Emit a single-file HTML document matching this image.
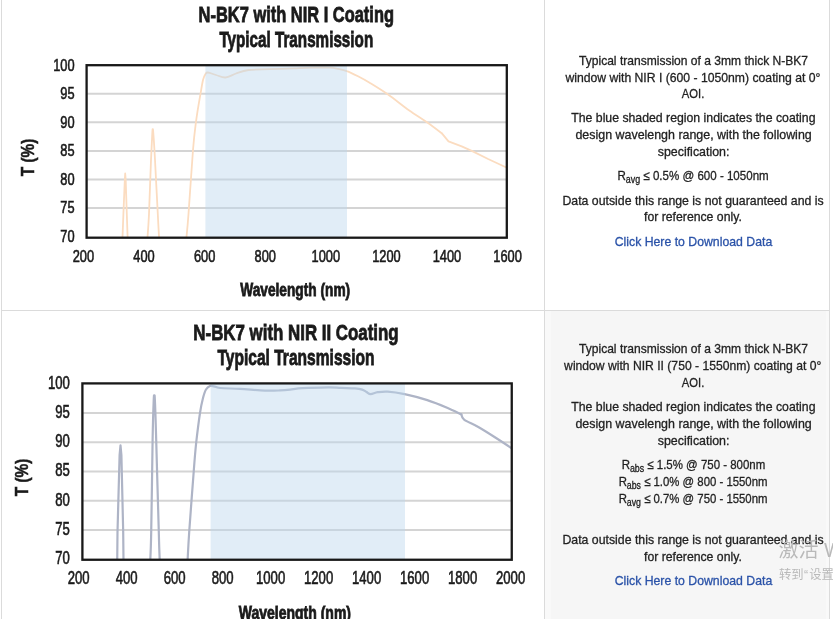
<!DOCTYPE html>
<html lang="en">
<head>
<meta charset="utf-8">
<title>N-BK7 NIR Coating Typical Transmission</title>
<style>
html,body{margin:0;padding:0;background:#fff;}
body{width:833px;height:619px;position:relative;overflow:hidden;font-family:"Liberation Sans", sans-serif;}
.b{position:absolute;background:#dbdbdb;}
.cell2{position:absolute;left:545px;top:311px;width:284px;height:308px;background:#f9f9f9;}
.cell2 i{position:absolute;left:6px;top:0;width:275px;height:308px;background:#f6f6f6;}
svg{position:absolute;left:0;top:0;}
svg text{font-family:"Liberation Sans", sans-serif;fill:#1a1a1a;}
svg text.tk{stroke:#1a1a1a;stroke-width:0.6px;}
svg text.tt{stroke:#1a1a1a;stroke-width:0.8px;}
svg text.ax{stroke:#1a1a1a;stroke-width:0.5px;}
.ln{position:absolute;height:17px;line-height:17px;white-space:nowrap;font-size:13px;color:#222;transform-origin:50% 50%;-webkit-text-stroke:0.3px currentColor;}.ln sub{font-size:10px;vertical-align:baseline;position:relative;top:3px;line-height:0;}.ln a{color:#2a52a8;text-decoration:none;}
.wm{position:absolute;color:#b9b9b9;white-space:nowrap;font-family:"Liberation Sans","Noto Sans CJK SC",sans-serif;}
</style>
</head>
<body>
<div class="cell2"><i></i></div>
<div class="b" style="left:1px;top:0;width:1px;height:619px"></div>
<div class="b" style="left:544px;top:0;width:1px;height:619px"></div>
<div class="b" style="left:829px;top:0;width:1px;height:619px"></div>
<div class="b" style="left:1px;top:310px;width:829px;height:1px"></div>
<svg width="833" height="619" viewBox="0 0 833 619">
<clipPath id="cl1"><rect x="86.6" y="65.2" width="420.20000000000005" height="172.5"/></clipPath>
<line x1="86.6" x2="506.8" y1="93.83" y2="93.83" stroke="#d4d4d4" stroke-width="2"/>
<line x1="86.6" x2="506.8" y1="122.37" y2="122.37" stroke="#d4d4d4" stroke-width="2"/>
<line x1="86.6" x2="506.8" y1="150.90" y2="150.90" stroke="#d4d4d4" stroke-width="2"/>
<line x1="86.6" x2="506.8" y1="179.43" y2="179.43" stroke="#d4d4d4" stroke-width="2"/>
<line x1="86.6" x2="506.8" y1="207.97" y2="207.97" stroke="#d4d4d4" stroke-width="2"/>
<g clip-path="url(#cl1)" fill="none" stroke="#fbdcc0" stroke-width="1.8" stroke-linejoin="round" stroke-linecap="round">
<path d="M122.4,240.0L123.4,214.0L124.8,180.0L125.2,173.5L125.7,180.0L126.8,214.0L127.7,240.0"/>
<path d="M147.3,240.0C147.6,235.7 148.4,227.3 149.0,214.0C149.6,200.7 150.4,173.5 151.0,160.0C151.6,146.5 152.0,138.1 152.3,133.0C152.6,127.9 152.6,129.3 152.8,129.3C152.9,129.3 152.9,127.9 153.3,133.0C153.7,138.1 154.3,146.5 155.0,160.0C155.7,173.5 157.1,200.7 157.8,214.0C158.4,227.3 159.0,235.7 159.2,240.0"/>
<path d="M186.2,240.0C186.6,235.7 187.4,229.0 188.5,214.0C189.6,199.0 191.8,165.4 193.0,150.0C194.2,134.6 194.8,131.1 196.0,121.8C197.2,112.4 199.3,100.7 200.5,93.8C201.7,86.8 202.2,83.3 203.0,80.0C203.8,76.7 204.7,75.2 205.5,74.0C206.3,72.8 206.2,72.3 208.0,72.5C209.8,72.7 213.1,74.2 216.0,75.0C218.9,75.8 222.2,77.8 225.5,77.5C228.8,77.2 232.2,74.8 236.0,73.5C239.8,72.2 242.8,70.7 248.5,70.0C254.2,69.3 262.4,69.5 270.0,69.2C277.6,68.9 287.0,68.6 294.0,68.3C301.0,68.0 306.1,67.7 312.0,67.6C317.9,67.5 325.3,67.4 329.6,67.6C333.9,67.8 335.1,68.2 338.0,68.8C340.9,69.4 343.5,69.8 346.8,71.1C350.1,72.3 354.3,74.4 358.0,76.3C361.7,78.2 364.2,79.5 369.2,82.5C374.1,85.5 381.1,89.7 387.7,94.3C394.3,98.9 402.3,105.5 408.9,110.2C415.5,114.9 421.8,118.7 427.3,122.6C432.8,126.5 439.5,131.6 441.9,133.4"/>
<path d="M441.9,133.4L448.5,141.4L461.7,146.4L472.3,151.1L488.1,159.0L505.3,167.0L508.0,168.3"/>
</g>
<rect x="205.4" y="65.2" width="141.6" height="172.5" fill="#bcd6ee" fill-opacity="0.45"/>
<rect x="86.6" y="65.2" width="420.20000000000005" height="172.5" fill="none" stroke="#181818" stroke-width="2.3"/>
<text transform="translate(74.60,70.60) scale(0.75,1)" font-size="17.1" text-anchor="end" font-weight="normal" class="tk">100</text>
<text transform="translate(74.60,99.13) scale(0.75,1)" font-size="17.1" text-anchor="end" font-weight="normal" class="tk">95</text>
<text transform="translate(74.60,127.67) scale(0.75,1)" font-size="17.1" text-anchor="end" font-weight="normal" class="tk">90</text>
<text transform="translate(74.60,156.20) scale(0.75,1)" font-size="17.1" text-anchor="end" font-weight="normal" class="tk">85</text>
<text transform="translate(74.60,184.73) scale(0.75,1)" font-size="17.1" text-anchor="end" font-weight="normal" class="tk">80</text>
<text transform="translate(74.60,213.27) scale(0.75,1)" font-size="17.1" text-anchor="end" font-weight="normal" class="tk">75</text>
<text transform="translate(74.60,241.80) scale(0.75,1)" font-size="17.1" text-anchor="end" font-weight="normal" class="tk">70</text>
<text transform="translate(83.40,261.50) scale(0.75,1)" font-size="17.1" text-anchor="middle" font-weight="normal" class="tk">200</text>
<text transform="translate(144.00,261.50) scale(0.75,1)" font-size="17.1" text-anchor="middle" font-weight="normal" class="tk">400</text>
<text transform="translate(204.60,261.50) scale(0.75,1)" font-size="17.1" text-anchor="middle" font-weight="normal" class="tk">600</text>
<text transform="translate(265.20,261.50) scale(0.75,1)" font-size="17.1" text-anchor="middle" font-weight="normal" class="tk">800</text>
<text transform="translate(325.80,261.50) scale(0.75,1)" font-size="17.1" text-anchor="middle" font-weight="normal" class="tk">1000</text>
<text transform="translate(386.40,261.50) scale(0.75,1)" font-size="17.1" text-anchor="middle" font-weight="normal" class="tk">1200</text>
<text transform="translate(447.00,261.50) scale(0.75,1)" font-size="17.1" text-anchor="middle" font-weight="normal" class="tk">1400</text>
<text transform="translate(507.60,261.50) scale(0.75,1)" font-size="17.1" text-anchor="middle" font-weight="normal" class="tk">1600</text>
<text x="198.60" y="22.40" font-size="21.3" textLength="195.40" lengthAdjust="spacingAndGlyphs" font-weight="bold" class="tt">N-BK7 with NIR I Coating</text>
<text x="219.40" y="47.20" font-size="21.3" textLength="153.80" lengthAdjust="spacingAndGlyphs" font-weight="bold" class="tt">Typical Transmission</text>
<text x="240.20" y="295.65" font-size="17.6" textLength="110.00" lengthAdjust="spacingAndGlyphs" font-weight="bold" class="tt">Wavelength (nm)</text>
<text transform="translate(33.75,157.5) rotate(-90)" x="-18.75" y="0" textLength="37.5" lengthAdjust="spacingAndGlyphs" font-size="17.6" font-weight="bold" class="ax">T (%)</text>
<clipPath id="cl2"><rect x="82.4" y="383.4" width="429.35" height="176.35000000000002"/></clipPath>
<line x1="82.4" x2="511.75" y1="413.05" y2="413.05" stroke="#d4d4d4" stroke-width="2"/>
<line x1="82.4" x2="511.75" y1="442.30" y2="442.30" stroke="#d4d4d4" stroke-width="2"/>
<line x1="82.4" x2="511.75" y1="471.55" y2="471.55" stroke="#d4d4d4" stroke-width="2"/>
<line x1="82.4" x2="511.75" y1="500.80" y2="500.80" stroke="#d4d4d4" stroke-width="2"/>
<line x1="82.4" x2="511.75" y1="530.05" y2="530.05" stroke="#d4d4d4" stroke-width="2"/>
<g clip-path="url(#cl2)" fill="none" stroke="#aeb4c6" stroke-width="2.2" stroke-linejoin="round" stroke-linecap="round">
<path d="M117.2,562.0L117.5,532.0L119.6,455.0L120.5,445.3L121.4,455.0L123.2,532.0L123.5,562.0"/>
<path d="M150.2,562.0C150.4,557.0 150.8,552.3 151.2,532.0C151.7,511.7 152.2,461.9 152.6,440.0C153.0,418.1 153.4,407.9 153.7,400.5C154.0,393.1 154.1,395.8 154.3,395.8C154.5,395.8 154.6,393.1 154.9,400.5C155.3,407.9 155.6,418.1 156.2,440.0C156.8,461.9 158.2,511.7 158.8,532.0C159.3,552.3 159.6,557.0 159.8,562.0"/>
<path d="M187.5,562.0C187.8,557.0 188.2,547.2 189.2,532.0C190.3,516.8 192.6,485.4 193.8,470.5C194.9,455.6 195.2,452.1 196.2,442.5C197.3,432.9 198.9,420.4 200.0,413.0C201.1,405.6 202.0,401.9 203.0,398.0C204.0,394.1 204.8,391.5 206.0,389.5C207.2,387.5 208.7,386.5 210.0,386.0C211.3,385.5 212.3,386.0 214.0,386.3C215.7,386.6 215.7,387.6 220.0,388.0C224.3,388.4 232.5,388.5 240.0,388.9C247.5,389.3 258.3,390.4 265.0,390.6C271.7,390.9 275.8,390.6 280.0,390.4C284.2,390.2 286.2,390.0 290.0,389.6C293.8,389.2 296.3,388.6 302.7,388.2C309.1,387.8 321.8,387.4 328.2,387.3C334.6,387.2 336.4,387.7 340.9,387.9C345.4,388.1 351.4,388.1 355.0,388.4C358.6,388.7 360.3,389.0 362.2,389.6C364.1,390.2 365.1,391.2 366.5,392.0C367.9,392.8 368.8,394.1 370.7,394.1C372.6,394.1 374.9,392.6 377.7,392.2C380.5,391.8 383.1,391.3 387.6,391.6C392.1,391.9 398.0,392.7 404.6,394.1C411.2,395.5 420.2,397.8 427.3,400.1C434.4,402.4 441.4,405.3 447.1,407.7C452.8,410.1 458.9,413.2 461.3,414.3"/>
<path d="M461.3,414.3C461.8,415.2 461.3,417.5 464.1,419.6C466.9,421.7 473.1,424.0 478.3,427.0C483.5,430.0 490.0,434.1 495.3,437.5C500.6,440.9 507.4,445.4 510.3,447.4C513.2,449.3 512.5,448.9 513.0,449.2"/>
</g>
<rect x="210.6" y="383.4" width="194.4" height="176.35000000000002" fill="#bcd6ee" fill-opacity="0.45"/>
<rect x="82.4" y="383.4" width="429.35" height="176.35000000000002" fill="none" stroke="#181818" stroke-width="2.3"/>
<text transform="translate(69.90,388.50) scale(0.75,1)" font-size="17.5" text-anchor="end" font-weight="normal" class="tk">100</text>
<text transform="translate(69.90,417.75) scale(0.75,1)" font-size="17.5" text-anchor="end" font-weight="normal" class="tk">95</text>
<text transform="translate(69.90,447.00) scale(0.75,1)" font-size="17.5" text-anchor="end" font-weight="normal" class="tk">90</text>
<text transform="translate(69.90,476.25) scale(0.75,1)" font-size="17.5" text-anchor="end" font-weight="normal" class="tk">85</text>
<text transform="translate(69.90,505.50) scale(0.75,1)" font-size="17.5" text-anchor="end" font-weight="normal" class="tk">80</text>
<text transform="translate(69.90,534.75) scale(0.75,1)" font-size="17.5" text-anchor="end" font-weight="normal" class="tk">75</text>
<text transform="translate(69.90,564.00) scale(0.75,1)" font-size="17.5" text-anchor="end" font-weight="normal" class="tk">70</text>
<text transform="translate(78.60,583.80) scale(0.75,1)" font-size="17.5" text-anchor="middle" font-weight="normal" class="tk">200</text>
<text transform="translate(126.60,583.80) scale(0.75,1)" font-size="17.5" text-anchor="middle" font-weight="normal" class="tk">400</text>
<text transform="translate(174.60,583.80) scale(0.75,1)" font-size="17.5" text-anchor="middle" font-weight="normal" class="tk">600</text>
<text transform="translate(222.60,583.80) scale(0.75,1)" font-size="17.5" text-anchor="middle" font-weight="normal" class="tk">800</text>
<text transform="translate(270.60,583.80) scale(0.75,1)" font-size="17.5" text-anchor="middle" font-weight="normal" class="tk">1000</text>
<text transform="translate(318.60,583.80) scale(0.75,1)" font-size="17.5" text-anchor="middle" font-weight="normal" class="tk">1200</text>
<text transform="translate(366.60,583.80) scale(0.75,1)" font-size="17.5" text-anchor="middle" font-weight="normal" class="tk">1400</text>
<text transform="translate(414.60,583.80) scale(0.75,1)" font-size="17.5" text-anchor="middle" font-weight="normal" class="tk">1600</text>
<text transform="translate(462.60,583.80) scale(0.75,1)" font-size="17.5" text-anchor="middle" font-weight="normal" class="tk">1800</text>
<text transform="translate(510.60,583.80) scale(0.75,1)" font-size="17.5" text-anchor="middle" font-weight="normal" class="tk">2000</text>
<text x="193.35" y="339.50" font-size="21.8" textLength="205.30" lengthAdjust="spacingAndGlyphs" font-weight="bold" class="tt">N-BK7 with NIR II Coating</text>
<text x="217.45" y="365.00" font-size="21.8" textLength="157.10" lengthAdjust="spacingAndGlyphs" font-weight="bold" class="tt">Typical Transmission</text>
<text x="238.80" y="619.10" font-size="17.9" textLength="112.20" lengthAdjust="spacingAndGlyphs" font-weight="bold" class="tt">Wavelength (nm)</text>
<text transform="translate(28.1,477.5) rotate(-90)" x="-18.75" y="0" textLength="37.5" lengthAdjust="spacingAndGlyphs" font-size="17.9" font-weight="bold" class="ax">T (%)</text>
</svg>
<div class="ln" style="left:569.66px;top:52.20px;transform:scaleX(0.9268)">Typical transmission of a 3mm thick N-BK7</div>
<div class="ln" style="left:557.29px;top:68.50px;transform:scaleX(0.9381)">window with NIR I (600 - 1050nm) coating at 0°</div>
<div class="ln" style="left:680.19px;top:85.00px;transform:scaleX(0.8649)">AOI.</div>
<div class="ln" style="left:563.83px;top:109.00px;transform:scaleX(0.9440)">The blue shaded region indicates the coating</div>
<div class="ln" style="left:569.61px;top:125.75px;transform:scaleX(0.9558)">design wavelengh range, with the following</div>
<div class="ln" style="left:655.62px;top:142.60px;transform:scaleX(0.9547)">specification:</div>
<div class="ln" style="left:608.12px;top:167.00px;transform:scaleX(0.8889)">R<sub>avg</sub> ≤ 0.5% @ 600 - 1050nm</div>
<div class="ln" style="left:555.16px;top:192.00px;transform:scaleX(0.9463)">Data outside this range is not guaranteed and is</div>
<div class="ln" style="left:641.29px;top:207.75px;transform:scaleX(0.9416)">for reference only.</div>
<div class="ln" style="left:609.75px;top:233.25px;transform:scaleX(0.9436)"><a>Click Here to Download Data</a></div>
<div class="ln" style="left:569.66px;top:340.25px;transform:scaleX(0.9268)">Typical transmission of a 3mm thick N-BK7</div>
<div class="ln" style="left:555.48px;top:357.00px;transform:scaleX(0.9338)">window with NIR II (750 - 1550nm) coating at 0°</div>
<div class="ln" style="left:680.19px;top:373.75px;transform:scaleX(0.8649)">AOI.</div>
<div class="ln" style="left:563.83px;top:398.25px;transform:scaleX(0.9440)">The blue shaded region indicates the coating</div>
<div class="ln" style="left:569.61px;top:415.00px;transform:scaleX(0.9558)">design wavelengh range, with the following</div>
<div class="ln" style="left:655.62px;top:432.00px;transform:scaleX(0.9547)">specification:</div>
<div class="ln" style="left:611.74px;top:456.25px;transform:scaleX(0.8817)">R<sub>abs</sub> ≤ 1.5% @ 750 - 800nm</div>
<div class="ln" style="left:608.12px;top:473.10px;transform:scaleX(0.8748)">R<sub>abs</sub> ≤ 1.0% @ 800 - 1550nm</div>
<div class="ln" style="left:608.12px;top:490.00px;transform:scaleX(0.8748)">R<sub>avg</sub> ≤ 0.7% @ 750 - 1550nm</div>
<div class="ln" style="left:555.16px;top:530.75px;transform:scaleX(0.9463)">Data outside this range is not guaranteed and is</div>
<div class="ln" style="left:641.29px;top:547.75px;transform:scaleX(0.9416)">for reference only.</div>
<div class="ln" style="left:609.75px;top:572.00px;transform:scaleX(0.9436)"><a>Click Here to Download Data</a></div>
<div class="wm" style="left:778.5px;top:533.5px;font-size:20px;">激活 Windows</div>
<div class="wm" style="left:779px;top:565px;font-size:12.3px">转到<span style="margin:0 1px 0 0.5px">“</span>设置”以激活 Windows。</div>
</body>
</html>
